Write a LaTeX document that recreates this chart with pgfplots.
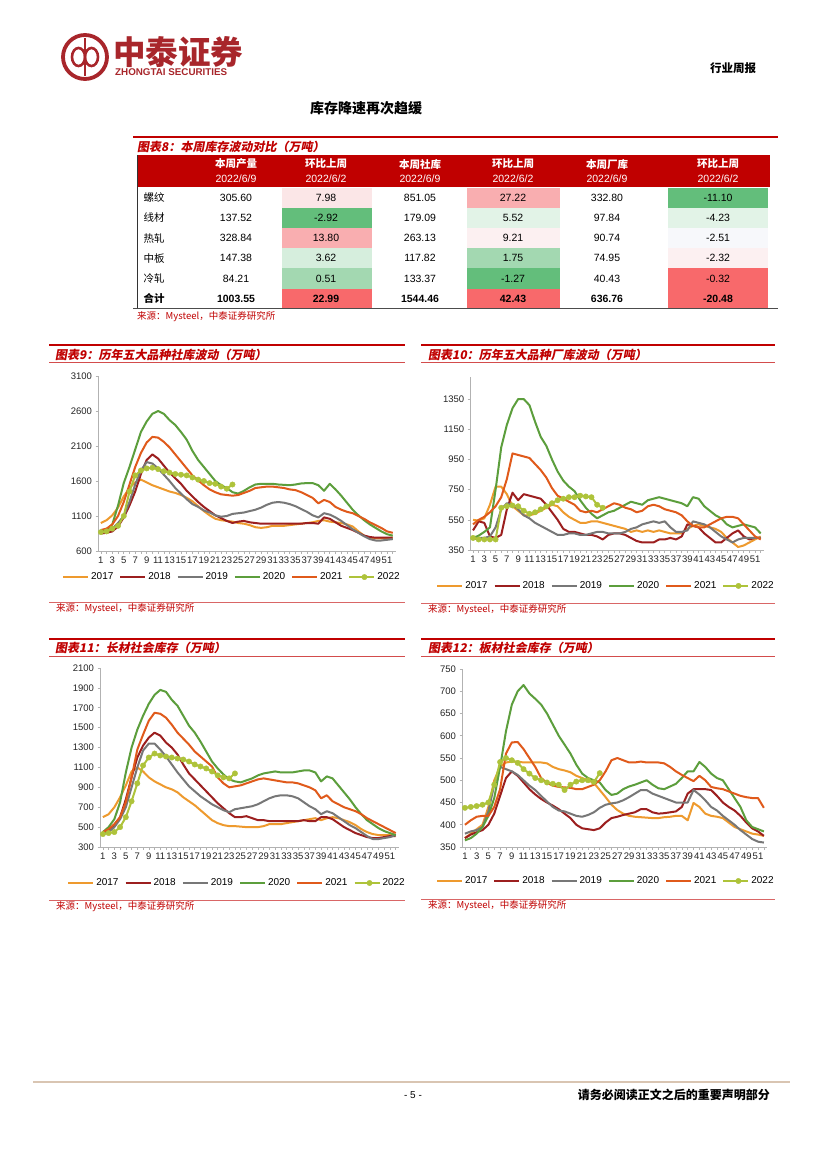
\documentclass[border=0pt]{standalone}
\usepackage{pgfplots}
\pgfplotsset{compat=1.18}
\usepackage{pgfplotstable}
\usepackage{fontspec}
\setmainfont{Liberation Sans}
\newfontfamily\cjk{Noto Sans CJK SC}
\newfontfamily\cjkit[FakeSlant=0.18]{Noto Sans CJK SC}
\newcommand\fs[1]{\fontsize{#1}{#1}\selectfont}

\definecolor{capred}{HTML}{C00000}
\definecolor{logored}{HTML}{A8262B}
\definecolor{c17}{HTML}{EE9A2E}
\definecolor{c18}{HTML}{9C1F1F}
\definecolor{c19}{HTML}{777777}
\definecolor{c20}{HTML}{5C9E3C}
\definecolor{c21}{HTML}{E05A1B}
\definecolor{c22}{HTML}{AEC33A}
\definecolor{gA}{HTML}{63BE7B}
\definecolor{gB}{HTML}{A3D8B1}
\definecolor{gC}{HTML}{D6EEDD}
\definecolor{gD}{HTML}{E2F3E7}
\definecolor{rA}{HTML}{F8696B}
\definecolor{rB}{HTML}{F9AEB0}
\definecolor{rC}{HTML}{FBE6E7}
\definecolor{rD}{HTML}{FCF0F1}
\definecolor{nW}{HTML}{F7F8FB}
\definecolor{foot}{HTML}{D9C5B2}

% weekly inventory, columns a..f = 2017..2022
\pgfplotstableread{
w a b c d e f
1 1000 850 870 870 900 870
2 1040 860 880 900 920 880
3 1110 880 920 980 980 920
4 1220 950 1000 1250 1100 960
5 1380 1080 1100 1570 1300 1100
6 1500 1250 1300 1800 1550 1450
7 1580 1450 1550 2050 1800 1680
8 1620 1700 1750 2300 2000 1750
9 1580 1900 1870 2450 2150 1780
10 1540 1980 1850 2560 2230 1790
11 1510 1920 1780 2600 2220 1770
12 1480 1820 1690 2560 2160 1740
13 1450 1720 1600 2470 2080 1720
14 1430 1640 1500 2400 1980 1700
15 1400 1560 1420 2300 1880 1690
16 1360 1460 1340 2190 1780 1680
17 1310 1380 1270 2030 1680 1650
18 1240 1300 1230 1900 1610 1620
19 1170 1230 1180 1800 1540 1600
20 1110 1170 1150 1700 1480 1570
21 1060 1110 1110 1600 1440 1560
22 1040 1070 1090 1540 1410 1520
23 1030 1030 1100 1500 1400 1490
24 1020 1000 1130 1440 1390 1550
25 1000 1020 1140 1420 1400 nan
26 990 1030 1150 1460 1430 nan
27 970 1010 1170 1510 1460 nan
28 940 1000 1190 1550 1500 nan
29 930 990 1220 1560 1510 nan
30 940 990 1260 1560 1520 nan
31 960 990 1290 1560 1520 nan
32 960 990 1300 1550 1510 nan
33 960 990 1290 1545 1500 nan
34 970 990 1270 1540 1480 nan
35 980 990 1240 1550 1470 nan
36 990 990 1200 1565 1440 nan
37 1000 1000 1160 1570 1400 nan
38 1010 1000 1110 1570 1360 nan
39 1030 990 1080 1540 1280 nan
40 1040 1080 1140 1460 1330 nan
41 1020 1060 1120 1560 1300 nan
42 1010 1010 1080 1480 1230 nan
43 1000 960 1030 1390 1190 nan
44 980 930 970 1290 1160 nan
45 950 900 910 1190 1140 nan
46 880 860 860 1110 1100 nan
47 820 820 810 1040 1060 nan
48 790 800 770 980 1010 nan
49 780 790 750 930 970 nan
50 780 790 750 880 930 nan
51 780 790 760 840 880 nan
52 790 790 770 820 860 nan
}\tabA

\pgfplotstableread{
w a b c d e f
1 550 480 420 430 520 430
2 545 540 430 445 550 420
3 560 530 430 470 570 420
4 650 440 440 500 600 420
5 770 430 500 750 640 420
6 770 450 620 1030 700 630
7 720 620 660 1180 820 640
8 640 730 650 1290 990 645
9 610 680 620 1350 980 640
10 580 720 580 1350 970 610
11 580 710 560 1310 960 590
12 590 700 530 1200 920 600
13 610 690 510 1100 880 620
14 630 650 490 1040 830 640
15 650 600 470 950 760 660
16 640 550 450 870 710 680
17 600 490 450 810 690 690
18 570 470 460 770 670 700
19 550 470 460 740 650 700
20 530 460 450 680 610 710
21 530 450 450 630 600 705
22 540 450 460 590 610 700
23 540 440 470 560 600 650
24 530 420 470 580 620 630
25 520 450 460 600 640 nan
26 510 460 460 610 660 nan
27 500 460 460 630 650 nan
28 490 450 470 650 630 nan
29 470 430 490 670 620 nan
30 480 410 500 660 600 nan
31 470 400 520 650 610 nan
32 480 400 530 680 640 nan
33 470 400 540 690 650 nan
34 480 420 530 700 640 nan
35 470 420 540 690 620 nan
36 460 430 500 680 610 nan
37 460 420 470 670 600 nan
38 460 440 470 660 580 nan
39 490 520 480 640 540 nan
40 510 510 540 700 510 nan
41 520 500 530 690 500 nan
42 510 460 520 640 500 nan
43 500 430 500 610 520 nan
44 490 400 470 580 540 nan
45 470 400 440 560 560 nan
46 430 430 420 520 570 nan
47 400 460 400 500 570 nan
48 370 480 420 510 560 nan
49 380 440 430 520 520 nan
50 400 420 430 510 480 nan
51 420 430 430 500 440 nan
52 440 430 430 460 420 nan
}\tabB

\pgfplotstableread{
w a b c d e f
1 600 450 430 450 450 430
2 630 470 450 500 480 440
3 700 520 500 580 530 450
4 800 600 580 750 600 500
5 920 780 700 1050 750 600
6 1060 1000 900 1300 1000 760
7 1100 1200 1100 1480 1280 940
8 1060 1320 1270 1620 1430 1120
9 1000 1400 1340 1740 1570 1200
10 960 1450 1340 1830 1650 1240
11 930 1420 1280 1880 1640 1220
12 900 1350 1210 1860 1600 1210
13 880 1300 1130 1780 1530 1200
14 850 1230 1050 1720 1450 1190
15 800 1130 980 1620 1390 1180
16 760 1040 910 1520 1330 1160
17 720 980 860 1450 1260 1130
18 670 920 810 1360 1210 1110
19 620 860 770 1260 1160 1090
20 570 800 730 1160 1110 1060
21 540 740 700 1090 1000 1020
22 520 690 670 1030 940 1000
23 510 640 650 980 900 990
24 510 600 680 960 910 1040
25 505 600 690 950 920 nan
26 500 610 700 970 940 nan
27 500 590 710 990 960 nan
28 500 570 730 1020 980 nan
29 510 570 760 1040 990 nan
30 530 560 790 1050 980 nan
31 530 560 810 1060 970 nan
32 530 560 820 1050 960 nan
33 540 560 820 1050 950 nan
34 550 560 810 1050 950 nan
35 560 560 790 1060 940 nan
36 570 570 750 1070 920 nan
37 580 560 710 1070 900 nan
38 590 560 680 1050 870 nan
39 570 600 630 960 790 nan
40 590 600 660 1010 820 nan
41 600 580 640 990 760 nan
42 590 540 600 920 730 nan
43 570 500 560 850 700 nan
44 550 470 520 780 680 nan
45 520 440 490 700 660 nan
46 480 420 450 630 630 nan
47 450 400 410 570 590 nan
48 430 390 380 530 560 nan
49 420 390 380 490 530 nan
50 420 400 390 460 500 nan
51 420 410 400 440 470 nan
52 420 410 420 420 440 nan
}\tabC

\pgfplotstableread{
w a b c d e f
1 370 370 380 365 400 438
2 380 378 385 370 410 440
3 390 383 388 380 418 442
4 400 388 395 395 420 445
5 440 400 430 420 420 450
6 500 425 490 460 440 490
7 530 465 530 530 480 541
8 540 505 525 610 560 550
9 542 520 520 670 585 545
10 542 510 512 700 586 539
11 540 495 500 714 570 525
12 540 480 488 695 550 515
13 540 468 478 683 530 505
14 540 458 465 670 505 500
15 538 450 452 650 494 495
16 530 443 440 625 488 492
17 525 435 432 600 485 490
18 522 425 430 580 484 478
19 518 415 425 560 483 490
20 510 400 420 535 480 497
21 505 392 418 515 480 500
22 500 390 422 505 485 500
23 494 388 428 500 490 496
24 478 392 438 495 500 516
25 462 405 445 478 520 nan
26 445 415 448 467 545 nan
27 433 418 450 470 550 nan
28 425 422 455 480 545 nan
29 420 425 462 486 540 nan
30 418 428 470 490 540 nan
31 417 435 478 495 542 nan
32 416 435 478 500 540 nan
33 415 428 470 490 540 nan
34 415 425 465 482 540 nan
35 417 426 460 480 538 nan
36 418 428 455 486 530 nan
37 420 430 450 492 520 nan
38 420 440 450 505 512 nan
39 410 470 450 520 505 nan
40 449 480 478 520 498 nan
41 440 480 468 541 510 nan
42 425 480 455 530 500 nan
43 420 478 440 515 485 nan
44 418 465 432 505 482 nan
45 415 450 420 500 480 nan
46 405 440 410 480 475 nan
47 395 432 400 460 470 nan
48 390 420 388 440 465 nan
49 385 405 378 410 462 nan
50 380 392 368 395 460 nan
51 378 385 362 390 460 nan
52 375 375 360 385 438 nan
}\tabD

\pgfplotsset{
  weekly/.style={
    scale only axis,
    xmin=0.5, xmax=52.5,
    axis x line*=bottom, axis y line*=left,
    axis line style={draw=gray!60, line width=0.7pt},
    xtick={1,3,...,51}, minor xtick={2,4,...,52},
    tick align=outside,
    major tick length=2.5pt, minor tick length=2.5pt,
    tick style={draw=gray!60, line width=0.6pt},
    every tick label/.append style={font=\fs{9.5}, text=black!85},
    /pgf/number format/assume math mode=true,
    /pgf/number format/1000 sep={},
    xticklabel style={inner xsep=0pt},
    legend columns=6,
    legend style={draw=none, fill=none, font=\fs{10}, anchor=center,
      /tikz/every even column/.append style={column sep=4pt}},
    legend image code/.code={\draw[##1, mark indices={2}] plot coordinates {(0pt,0pt) (15pt,0pt) (25pt,0pt)};},
    every axis plot/.append style={line width=2pt, line join=round},
  }
}

\newcommand\years[1]{%
  \addplot[c17] table[x=w,y=a]{#1}; \addlegendentry{2017}
  \addplot[c18] table[x=w,y=b]{#1}; \addlegendentry{2018}
  \addplot[c19] table[x=w,y=c]{#1}; \addlegendentry{2019}
  \addplot[c20] table[x=w,y=d]{#1}; \addlegendentry{2020}
  \addplot[c21] table[x=w,y=e]{#1}; \addlegendentry{2021}
  \addplot[c22, mark=*, mark size=2.7pt, mark options={line width=0.4pt}] table[x=w,y=f]{#1}; \addlegendentry{2022}
}

\begin{document}
\begin{tikzpicture}
\fill[white] (0pt,0pt) rectangle (827pt,-1169pt);
\path[use as bounding box] (0pt,0pt) rectangle (827pt,-1169pt);

\begin{scope}[x=1pt, y=-1pt]
  % header
  \draw[logored, line width=3.8pt] (85,57) circle (22);
  \draw[logored, line width=2.6pt] (85,38) -- (85,76);
  \draw[logored, line width=2.6pt] (78.5,57) ellipse (6.5 and 9);
  \draw[logored, line width=2.6pt] (91.5,57) ellipse (6.5 and 9);
  \node[anchor=west, inner sep=0pt, text=logored] at (113,52.5) {\cjk\bfseries\fs{32.5}中泰证券};
  \node[anchor=west, inner sep=0pt, text=logored] at (115,72.5) {\bfseries\fs{9.8}ZHONGTAI SECURITIES};
  \node[inner sep=0pt] at (733,68) {\cjk\bfseries\fs{11.5}行业周报};
  \node[inner sep=0pt] at (366,108) {\cjk\bfseries\fs{14}库存降速再次趋缓};

  % table 8
  \draw[capred, line width=2pt] (133,137) -- (778,137);
  \node[anchor=west, inner sep=0pt, text=capred] at (137,146.5) {\cjkit\bfseries\fs{12}图表8：本周库存波动对比（万吨）};
  \fill[capred] (137,155) rectangle (770,187.5);
  \foreach \x/\t in {236/本周产量, 326/环比上周, 420/本周社库, 513/环比上周, 607/本周厂库, 718/环比上周}
    \node[text=white, inner sep=0pt] at (\x,164) {\cjk\bfseries\fs{10.5}\t};
  \foreach \x/\t in {236/2022\slash 6\slash 9, 326/2022\slash 6\slash 2, 420/2022\slash 6\slash 9, 513/2022\slash 6\slash 2, 607/2022\slash 6\slash 9, 718/2022\slash 6\slash 2}
    \node[text=white, inner sep=0pt] at (\x,179) {\fs{10.5}\t};
  \foreach \ca/\cb/\cc [count=\i] in {rC/rB/gA, gA/gD/gD, rB/rD/nW, gC/gB/rD, gB/gA/rA, rA/rA/rA} {
    \fill[\ca] (282,177.5+20.2*\i-10.1) rectangle (372,177.5+20.2*\i+10.1);
    \fill[\cb] (467,177.5+20.2*\i-10.1) rectangle (560,177.5+20.2*\i+10.1);
    \fill[\cc] (668,177.5+20.2*\i-10.1) rectangle (768,177.5+20.2*\i+10.1);
  }
  \foreach \l/\a/\b/\c/\d/\e/\f [count=\i] in {
      螺纹/305.60/7.98/851.05/27.22/332.80/-11.10,
      线材/137.52/-2.92/179.09/5.52/97.84/-4.23,
      热轧/328.84/13.80/263.13/9.21/90.74/-2.51,
      中板/147.38/3.62/117.82/1.75/74.95/-2.32,
      冷轧/84.21/0.51/133.37/-1.27/40.43/-0.32} {
    \node[inner sep=0pt] at (154,177.5+20.2*\i) {\cjk\fs{10.5}\l};
    \node[inner sep=0pt] at (236,177.5+20.2*\i) {\fs{10.5}\a};
    \node[inner sep=0pt] at (326,177.5+20.2*\i) {\fs{10.5}\b};
    \node[inner sep=0pt] at (420,177.5+20.2*\i) {\fs{10.5}\c};
    \node[inner sep=0pt] at (513,177.5+20.2*\i) {\fs{10.5}\d};
    \node[inner sep=0pt] at (607,177.5+20.2*\i) {\fs{10.5}\e};
    \node[inner sep=0pt] at (718,177.5+20.2*\i) {\fs{10.5}\f};
  }
  \node[inner sep=0pt] at (154,298.7) {\cjk\bfseries\fs{10.5}合计};
  \foreach \x/\v in {236/1003.55, 326/22.99, 420/1544.46, 513/42.43, 607/636.76, 718/-20.48}
    \node[inner sep=0pt] at (\x,298.7) {\bfseries\fs{10.5}\v};
  \draw[black!80, line width=1pt] (137,155) -- (137,308.5);
  \draw[black!70, line width=0.8pt] (133,308.5) -- (778,308.5);
  \node[anchor=west, inner sep=0pt, text=capred] at (137,317) {\cjk\fs{9.5}来源：Mysteel，中泰证券研究所};

  % chart frames
  \foreach \xa/\xb/\yt/\ys in {49/405/345/602, 421/775/345/603, 49/405/639/900, 421/775/639/899} {
    \draw[capred, line width=2pt] (\xa,\yt) -- (\xb,\yt);
    \draw[capred!70, line width=0.5pt] (\xa,\yt+17.5) -- (\xb,\yt+17.5);
    \draw[capred!60, line width=0.6pt] (\xa,\ys) -- (\xb,\ys);
    \node[anchor=west, inner sep=0pt, text=capred] at (\xa+7,\ys+7) {\cjk\fs{9.5}来源：Mysteel，中泰证券研究所};
  }
  \node[anchor=west, inner sep=0pt, text=capred] at (55,354.5) {\cjkit\bfseries\fs{12}图表9：历年五大品种社库波动（万吨）};
  \node[anchor=west, inner sep=0pt, text=capred] at (428,354.5) {\cjkit\bfseries\fs{12}图表10：历年五大品种厂库波动（万吨）};
  \node[anchor=west, inner sep=0pt, text=capred] at (55,648) {\cjkit\bfseries\fs{12}图表11：长材社会库存（万吨）};
  \node[anchor=west, inner sep=0pt, text=capred] at (428,648) {\cjkit\bfseries\fs{12}图表12：板材社会库存（万吨）};

  % footer
  \draw[foot, line width=1.5pt] (33,1082) -- (790,1082);
  \node[inner sep=0pt] at (413,1095) {\fs{10}- 5 -};
  \node[anchor=east, inner sep=0pt] at (770,1095) {\cjk\bfseries\fs{12}请务必阅读正文之后的重要声明部分};
\end{scope}

% chart 9
\begin{axis}[weekly, at={(98pt,-551pt)}, anchor=south west,
  width=297.6pt, height=175pt, ymin=600, ymax=3100, ytick={600,1100,...,3100},
  legend style={at={(0.45,-0.149)}}]
  \years{\tabA}
\end{axis}

% chart 10
\begin{axis}[weekly, at={(470.2pt,-550pt)}, anchor=south west,
  width=293.3pt, height=173.5pt, ymin=350, ymax=1500, ytick={350,550,...,1350},
  legend style={at={(0.463,-0.207)}}]
  \years{\tabB}
\end{axis}

% chart 11
\begin{axis}[weekly, at={(100pt,-847pt)}, anchor=south west,
  width=298.6pt, height=179pt, ymin=300, ymax=2100, ytick={300,500,...,2100},
  legend style={at={(0.459,-0.201)}}]
  \years{\tabC}
\end{axis}

% chart 12
\begin{axis}[weekly, at={(462pt,-847pt)}, anchor=south west,
  width=304.8pt, height=178pt, ymin=350, ymax=750, ytick={350,400,...,750},
  legend style={at={(0.472,-0.191)}}]
  \years{\tabD}
\end{axis}
\end{tikzpicture}
\end{document}
